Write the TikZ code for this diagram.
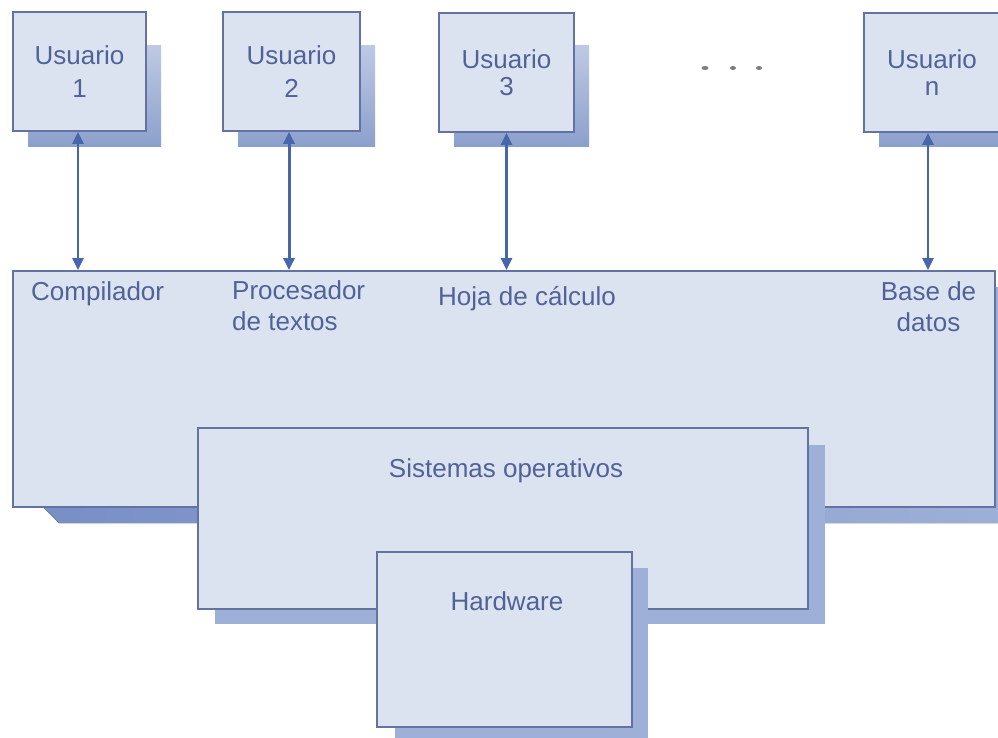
\documentclass[tikz,border=0pt]{standalone}
\usepackage{fontspec}
\setmainfont{Liberation Sans}
\usetikzlibrary{arrows.meta}

\definecolor{boxfill}{RGB}{220,227,240}
\definecolor{boxline}{RGB}{100,114,160}
\definecolor{labeltext}{RGB}{80,98,152}
\definecolor{shadowlight}{RGB}{190,202,228}
\definecolor{shadowdark}{RGB}{140,160,205}
\definecolor{shadowmid}{RGB}{158,176,215}
\definecolor{shadowdeep}{RGB}{120,143,198}
\definecolor{arrowblue}{RGB}{72,102,170}
\definecolor{dotgrey}{RGB}{125,125,132}

\tikzset{
  layerbox/.style={draw=boxline, line width=1.8pt, fill=boxfill, inner sep=0pt,
    text=labeltext, align=center},
  userbox/.style={layerbox, minimum height=119pt, font=\fontsize{26}{33}\selectfont},
  userboxtight/.style={layerbox, minimum height=119pt, font=\fontsize{26}{27}\selectfont},
  lbl/.style={inner sep=0pt, text=labeltext, font=\fontsize{26}{31}\selectfont},
  link/.style={draw=arrowblue, line width=2.4pt,
    {Triangle[length=12pt,width=11pt]}-{Triangle[length=12pt,width=11pt]}},
}

\begin{document}
\begin{tikzpicture}[x=1pt,y=-1pt]
  % page
  \fill[white] (0,0) rectangle (998,737);
  \useasboundingbox (0,0) rectangle (998,737);
  \clip (0,0) rectangle (998,737);

  % application layer with its drop shadow
  \fill[left color=shadowdeep, right color=shadowmid]
    (43,507) -- (59,523) -- (1011,523) -- (1011,287) -- (995,287) -- (995,507) -- cycle;
  \node[layerbox, minimum width=982pt, minimum height=236pt] (big) at (504,389) {};

  % operating system layer
  \fill[shadowmid] (215,624) rectangle (825,445);
  \node[layerbox, minimum width=610pt, minimum height=181pt] (so) at (503,518.5) {};
  \node[lbl] (solbl) at (506,471) {Sistemas operativos};

  % hardware layer
  \fill[shadowmid] (395,568) rectangle (648,745);
  \node[layerbox, minimum width=255pt, minimum height=175pt] (hw) at (504.5,639.5) {};
  \node[lbl] (hwlbl) at (507,601) {Hardware};

  % users
  \foreach \cx/\w in {79.5/133, 291.5/137, 506.5/135, 932/136} {
    \fill[top color=shadowlight, bottom color=shadowdark]
      (\cx-\w/2+15, 45) rectangle (\cx+\w/2+15, 146);
  }
  \node[userbox, minimum width=133pt] (u1) at (79.5,71.5) {Usuario\\1};
  \node[userbox, minimum width=137pt] (u2) at (291.5,71.5) {Usuario\\2};
  \node[userboxtight, minimum width=135pt] (u3) at (506.5,72.5) {Usuario\\3};
  \node[userboxtight, minimum width=136pt] (un) at (932,72.5) {Usuario\\n};

  % ellipsis between users
  \fill[dotgrey] (705,68) ellipse (3.5 and 2);
  \fill[dotgrey] (733,68) ellipse (3 and 2);
  \fill[dotgrey] (759,68) ellipse (3 and 2);

  % application labels
  \node[lbl, anchor=base west] (comp) at (31,300) {Compilador};
  \node[lbl, anchor=north west, align=left] (proc) at (232,280.5) {Procesador\\de textos};
  \node[lbl, anchor=base west] (hoja) at (438,305) {Hoja de cálculo};
  \node[lbl, anchor=north, align=center] (bdd) at (928.5,281.5) {Base de\\datos};

  % user <-> application links
  \draw[link] ([xshift=-1.5pt]u1.south) -- ([xshift=-1.5pt]u1.south |- big.north);
  \draw[link, line width=3pt] ([xshift=-2.5pt]u2.south) -- ([xshift=-2.5pt]u2.south |- big.north);
  \draw[link] (u3.south) -- (u3.south |- big.north);
  \draw[link] ([xshift=-4pt]un.south) -- ([xshift=-4pt]un.south |- big.north);
\end{tikzpicture}
\end{document}
